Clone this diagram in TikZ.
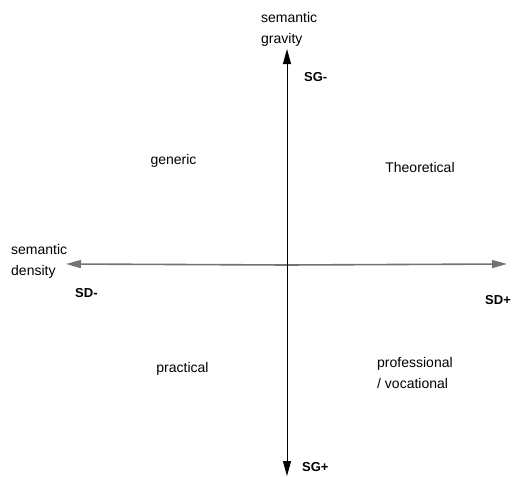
\documentclass[tikz,border=0pt]{standalone}
\usepackage{fontspec}
\setmainfont{Liberation Sans}
\usetikzlibrary{arrows.meta}

\begin{document}
\begin{tikzpicture}[x=1pt, y=-1pt,
    axis/.style={line width=1pt, -{Triangle[length=15pt, width=8pt]}},
    lbl/.style={font=\fontsize{14}{20.5}\selectfont, inner sep=0pt, align=left},
    tag/.style={font=\bfseries\fontsize{13}{15}\selectfont, inner sep=0pt}]
  \useasboundingbox (0,0) rectangle (512,477);
  % axes
  \coordinate (origin) at (287,265);
  \coordinate (top) at (287,49);
  \coordinate (bottom) at (287,476);
  \coordinate (left) at (66,264);
  \coordinate (right) at (507,264);
  \draw[axis, black!55, line width=1.6pt] (origin) -- (left);
  \draw[axis, black!55, line width=1.6pt] (origin) -- (right);
  \draw[axis] (origin) -- (top);
  \draw[axis] (origin) -- (bottom);
  % axis names
  \node[lbl, anchor=west] (gravity) at (261,29.5) {semantic\\gravity};
  \node[lbl, anchor=west] (density) at (11,261.5) {semantic\\density};
  \node[tag, anchor=west] (sgminus) at (304,77) {SG-};
  \node[tag, anchor=west] (sgplus) at (302,467) {SG+};
  \node[tag, anchor=west] (sdminus) at (75,293) {SD-};
  \node[tag, anchor=west] (sdplus) at (485,300) {SD+};
  % quadrants
  \node[lbl] (generic) at (173.5,161) {generic};
  \node[lbl] (theory) at (420,167) {Theoretical};
  \node[lbl] (practical) at (182.5,369) {practical};
  \node[lbl, anchor=west] (profession) at (377,373) {professional\\/ vocational};
\end{tikzpicture}
\end{document}
